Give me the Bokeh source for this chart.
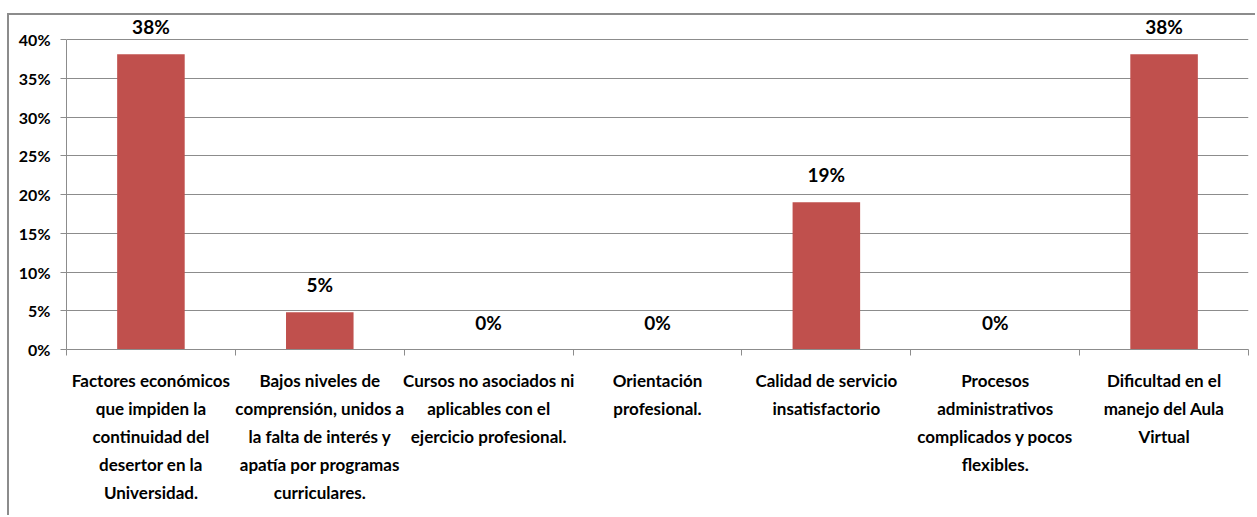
import numpy as np
from bokeh.plotting import figure
from bokeh.models import Range1d, FixedTicker, PrintfTickFormatter, ColumnDataSource, LinearAxis, LabelSet
from bokeh.core.properties import value
from bokeh.embed import file_html
from bokeh.resources import INLINE

categories = [
    "Factores económicos\nque impiden la\ncontinuidad del\ndesertor en la\nUniversidad.",
    "Bajos niveles de\ncomprensión, unidos a\nla falta de interés y\napatía por programas\ncurriculares.",
    "Cursos no asociados ni\naplicables con el\nejercicio profesional.",
    "Orientación\nprofesional.",
    "Calidad de servicio\ninsatisfactorio",
    "Procesos\nadministrativos\ncomplicados y pocos\nflexibles.",
    "Dificultad en el\nmanejo del Aula\nVirtual",
]
values = [38.1, 4.8, 0.0, 0.0, 19.0, 0.0, 38.1]
value_labels = ["38%", "5%", "0%", "0%", "19%", "0%", "38%"]
y_ticks = [0, 5, 10, 15, 20, 25, 30, 35, 40]

FONT = "Lato"
GRAY = "#8c8c8c"
BAR = "#C0504D"

n = len(categories)
xs = [i + 0.5 for i in range(n)]
src = ColumnDataSource(dict(x=xs, top=values, lab=value_labels))

p = figure(width=1248, height=502, output_backend="svg", toolbar_location=None,
           x_range=Range1d(0, n), y_range=Range1d(0, 43.1),
           min_border_left=57, min_border_right=9, min_border_top=0, min_border_bottom=168,
           x_axis_location=None, y_axis_location=None)
p.margin = (13, 0, 0, 7)
p.styles = {"border-top": f"2px solid {GRAY}", "border-left": f"2px solid {GRAY}"}
p.outline_line_color = None
p.background_fill_color = "white"
p.border_fill_color = "white"

p.vbar(x="x", top="top", width=0.4, bottom=0, source=src, fill_color=BAR, line_color=None)
labels = LabelSet(x="x", y="top", text="lab", source=src, text_align="center", text_baseline="bottom",
                  y_offset=16, text_font=value(FONT), text_font_style="bold", text_font_size="19px",
                  text_color="black")
p.add_layout(labels)

xaxis = LinearAxis(ticker=FixedTicker(ticks=xs, minor_ticks=list(range(n + 1))))
xaxis.major_label_overrides = {x: c for x, c in zip(xs, categories)}
xaxis.major_tick_out = 0
xaxis.major_tick_in = 0
xaxis.minor_tick_out = 6
xaxis.minor_tick_in = 0
xaxis.minor_tick_line_color = GRAY
xaxis.axis_line_color = GRAY
xaxis.major_label_text_font = FONT
xaxis.major_label_text_font_style = "bold"
xaxis.major_label_text_font_size = "17px"
xaxis.major_label_text_line_height = 1.34
xaxis.major_label_text_color = "black"
xaxis.major_label_standoff = 14
p.add_layout(xaxis, "below")

yaxis = LinearAxis(ticker=FixedTicker(ticks=y_ticks), formatter=PrintfTickFormatter(format="%d%%"),
                   bounds=(0, 40))
yaxis.major_tick_out = 6
yaxis.major_tick_in = 0
yaxis.minor_tick_line_color = None
yaxis.major_tick_line_color = GRAY
yaxis.axis_line_color = GRAY
yaxis.major_label_text_font = FONT
yaxis.major_label_text_font_style = "bold"
yaxis.major_label_text_font_size = "16px"
yaxis.major_label_text_color = "black"
yaxis.major_label_standoff = 10
p.add_layout(yaxis, "left")

p.xgrid.visible = False
p.ygrid.ticker = FixedTicker(ticks=y_ticks)
p.ygrid.grid_line_color = GRAY
p.ygrid.grid_line_width = 1

open("out.html", "w").write(file_html(p, INLINE))
